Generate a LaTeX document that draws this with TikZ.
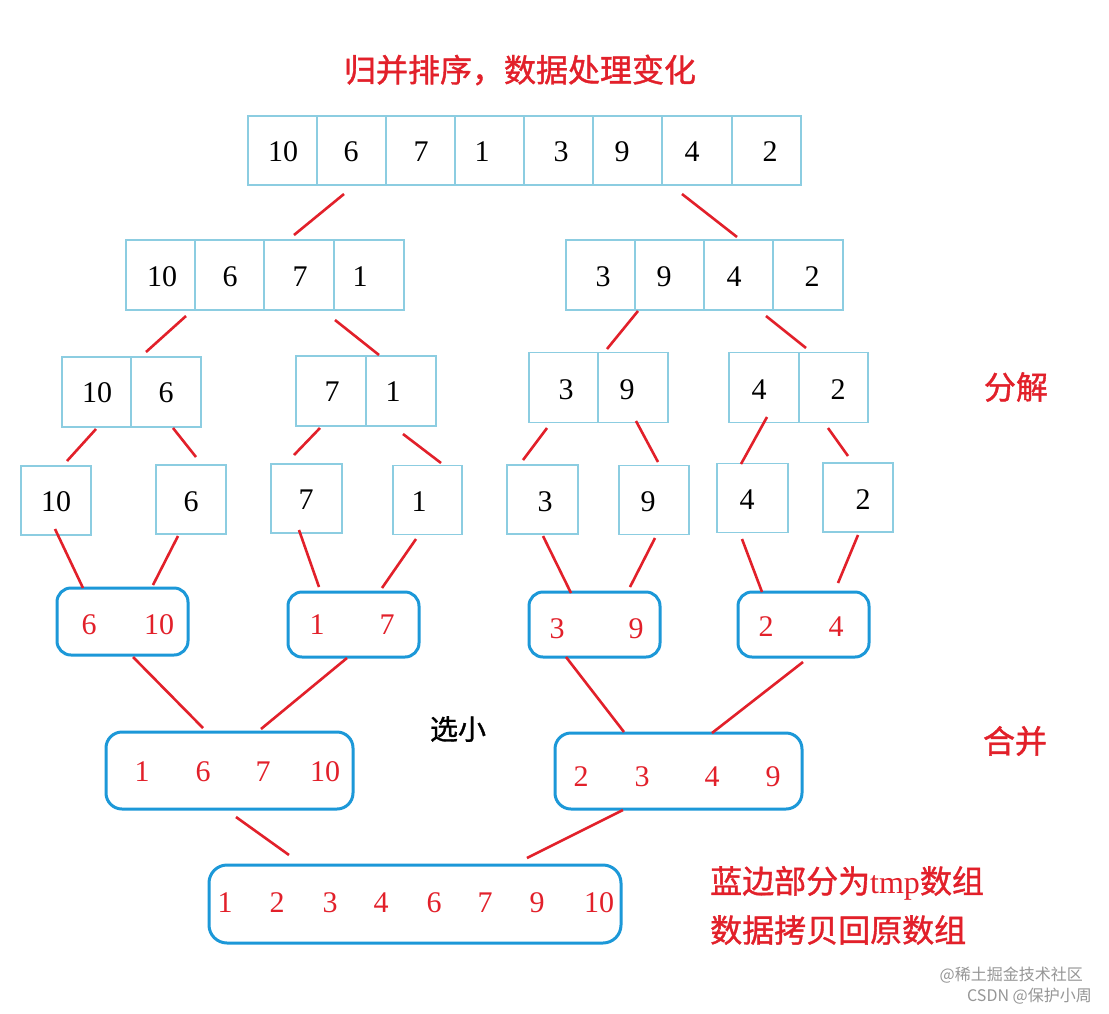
\documentclass[tikz,border=0pt]{standalone}
\usepackage{fontspec}
\setmainfont{Liberation Serif}
\newfontfamily\cjk{Noto Sans CJK SC}
\newfontfamily\cjkb{Noto Sans CJK SC}[FakeBold=1.2]
\usetikzlibrary{calc}
\definecolor{rd}{RGB}{226,32,42}
\definecolor{cellb}{RGB}{140,205,225}
\definecolor{rbox}{RGB}{28,152,216}
\definecolor{wm}{RGB}{150,150,150}
\begin{document}
\begin{tikzpicture}[x=1pt,y=-1pt,
  cellbox/.style={draw=cellb, line width=1.4pt, inner sep=0pt},
  mbox/.style={draw=rbox, line width=3pt, rounded corners=14pt, inner sep=0pt},
  num/.style={font=\fontsize{30}{30}\selectfont, inner sep=0pt, anchor=center},
  rnum/.style={num, text=rd},
  link/.style={draw=rd, line width=2.6pt},
  cjklab/.style={font=\cjkb\fontsize{32}{32}\selectfont, text=rd, inner sep=0pt},
  wmark/.style={font=\cjk\fontsize{16}{16}\selectfont, text=wm, inner sep=0pt}]
\useasboundingbox[fill=white] (0,0) rectangle (1109,1013);

% title
\node[cjklab] (title) at (520,70) {归并排序，数据处理变化};

% top row
\foreach \n/\cx/\w/\tx/\v in {1/282.5/69/283/10, 2/351.5/69/351/6, 3/420.5/69/421/7, 4/489.5/69/482/1,
  5/558.5/69/561/3, 6/627.5/69/622/9, 7/697/70/692/4, 8/766.5/69/770/2}{
  \node[cellbox, minimum width=\w pt, minimum height=69pt] (r0c\n) at (\cx,150.5) {};
  \node[num] (r0t\n) at (\tx,152) {\v};
}

% second row
\foreach \n/\cx/\w/\tx/\v in {1/160.5/69/162/10, 2/229.5/69/230/6, 3/299/70/300/7, 4/369/70/360/1,
  5/600.5/69/603/3, 6/669.5/69/664/9, 7/738.5/69/734/4, 8/808/70/812/2}{
  \node[cellbox, minimum width=\w pt, minimum height=70pt] (r1c\n) at (\cx,275) {};
  \node[num] (r1t\n) at (\tx,277) {\v};
}

% third row
\foreach \n/\cx/\cy/\w/\tx/\ty/\v in {1/96.5/392/69/97/393/10, 2/166/392/70/166/393/6,
  3/331/391/70/332/392/7, 4/401/391/70/393/392/1,
  5/563.5/387.5/69/566/390/3, 6/633/387.5/70/627/390/9,
  7/764/387.5/70/759/390/4, 8/833.5/387.5/69/838/390/2}{
  \node[cellbox, minimum width=\w pt, minimum height=70pt] (r2c\n) at (\cx,\cy) {};
  \node[num] (r2t\n) at (\tx,\ty) {\v};
}

% fourth row
\foreach \n/\cx/\cy/\w/\tx/\ty/\v in {1/56/500.5/70/56/502/10, 2/191/499.5/70/191/502/6,
  3/306.5/498.5/71/306/500/7, 4/427.5/500/69/419/502/1,
  5/542.5/499.5/71/545/502/3, 6/654/500/70/648/502/9,
  7/752.5/498/71/747/500/4, 8/858/497.5/70/863/500/2}{
  \node[cellbox, minimum width=\w pt, minimum height=69pt] (r3c\n) at (\cx,\cy) {};
  \node[num] (r3t\n) at (\tx,\ty) {\v};
}

% merge level 1
\node[mbox, minimum width=131pt, minimum height=67pt] (mA) at (122.5,621.5) {};
\node[mbox, minimum width=131pt, minimum height=65pt] (mB) at (353.5,624.5) {};
\node[mbox, minimum width=131pt, minimum height=65pt] (mC) at (594.5,624.5) {};
\node[mbox, minimum width=131pt, minimum height=65pt] (mD) at (803.5,624.5) {};
\node[rnum] (mAt1) at (89,625) {6};   \node[rnum] (mAt2) at (159,625) {10};
\node[rnum] (mBt1) at (317,625) {1};  \node[rnum] (mBt2) at (387,625) {7};
\node[rnum] (mCt1) at (557,629) {3};  \node[rnum] (mCt2) at (636,629) {9};
\node[rnum] (mDt1) at (766,627) {2};  \node[rnum] (mDt2) at (836,627) {4};

% merge level 2
\node[mbox, rounded corners=16pt, minimum width=247pt, minimum height=77pt] (mE) at (229.5,770.5) {};
\node[mbox, rounded corners=16pt, minimum width=247pt, minimum height=76pt] (mF) at (678.5,771) {};
\foreach \n/\tx/\v in {1/142/1, 2/203/6, 3/263/7, 4/325/10}{
  \node[rnum] (mEt\n) at (\tx,772) {\v};
}
\foreach \n/\tx/\v in {1/581/2, 2/642/3, 3/712/4, 4/773/9}{
  \node[rnum] (mFt\n) at (\tx,777) {\v};
}

% merge level 3
\node[mbox, rounded corners=18pt, minimum width=412pt, minimum height=78pt] (mG) at (415,904) {};
\foreach \n/\tx/\v in {1/225/1, 2/277/2, 3/330/3, 4/381/4, 5/434/6, 6/485/7, 7/537/9, 8/599/10}{
  \node[rnum] (mGt\n) at (\tx,903) {\v};
}

% connector end points
\foreach \nm/\x/\y in {a1/344/194, a2/294/235, a3/682/194, a4/737/237,
  b1/186/316, b2/146/352, b3/335/320, b4/379/355,
  b5/638/311, b6/607/349, b7/766/316, b8/806/348,
  c1/96/429, c2/67/461, c3/173/428, c4/196/457,
  c5/320/428, c6/294/455, c7/403/434, c8/441/463,
  c9/547/428, c10/523/460, c11/636/421, c12/658/462,
  c13/767/417, c14/741/464, c15/828/428, c16/848/456,
  d1/55/529, d2/83/588, d3/178/536, d4/153/585,
  d5/299/530, d6/319/587, d7/416/539, d8/382/588,
  d9/543/536, d10/571/593, d11/655/538, d12/630/587,
  d13/742/539, d14/762/592, d15/858/535, d16/838/583,
  e1/133/657, e2/203/728, e3/347/658, e4/261/729,
  e5/566/657, e6/624/732, e7/803/662, e8/712/733,
  f1/236/817, f2/289/855, f3/623/810, f4/527/858}{
  \coordinate (\nm) at (\x,\y);
}
\foreach \s/\t in {a1/a2, a3/a4, b1/b2, b3/b4, b5/b6, b7/b8,
  c1/c2, c3/c4, c5/c6, c7/c8, c9/c10, c11/c12, c13/c14, c15/c16,
  d1/d2, d3/d4, d5/d6, d7/d8, d9/d10, d11/d12, d13/d14, d15/d16,
  e1/e2, e3/e4, e5/e6, e7/e8, f1/f2, f3/f4}{
  \draw[link] (\s) -- (\t);
}

% side labels
\node[cjklab] (fenjie) at (1016,387) {分解};
\node[cjklab] (hebing) at (1015,741) {合并};
\node[cjklab, text=black, font=\cjkb\fontsize{28}{28}\selectfont] (xuanxiao) at (458,729) {选小};
\node[cjklab, anchor=west] (note1) at (710,883) {蓝边部分为{\rmfamily tmp}数组};
\node[cjklab, anchor=west] (note2) at (710,930) {数据拷贝回原数组};

% watermark
\node[wmark, anchor=east] (wm1) at (1083,975) {@稀土掘金技术社区};
\node[wmark, anchor=east] (wm2) at (1092,996) {CSDN @保护小周};
\end{tikzpicture}
\end{document}
